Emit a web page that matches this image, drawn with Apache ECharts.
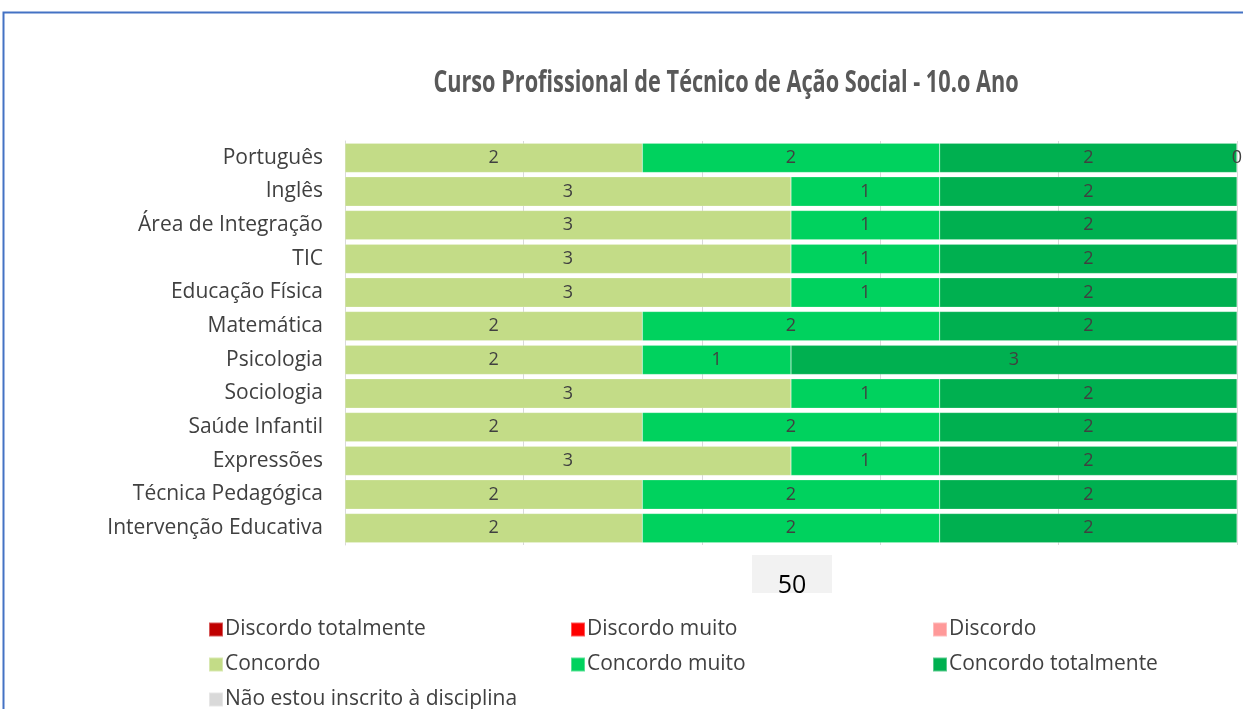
<!DOCTYPE html>
<html>
<head>
<meta charset="utf-8">
<script src="https://cdn.jsdelivr.net/npm/echarts@6/dist/echarts.min.js"></script>
<style>
  html, body { margin: 0; padding: 0; background: #fff; }
  #chart { width: 1243px; height: 709px; }
</style>
</head>
<body>
<div id="chart"></div>
<script>
const disciplinas = ['Português', 'Inglês', 'Área de Integração', 'TIC', 'Educação Física', 'Matemática',
  'Psicologia', 'Sociologia', 'Saúde Infantil', 'Expressões', 'Técnica Pedagógica', 'Intervenção Educativa']

const discordoTotalmente = [null, null, null, null, null, null, null, null, null, null, null, null]
const discordoMuito = [null, null, null, null, null, null, null, null, null, null, null, null]
const discordo = [null, null, null, null, null, null, null, null, null, null, null, null]
const concordo = [2, 3, 3, 3, 3, 2, 2, 3, 2, 3, 2, 2]
const concordoMuito = [2, 1, 1, 1, 1, 2, 1, 1, 2, 1, 2, 2]
const concordoTotalmente = [2, 2, 2, 2, 2, 2, 3, 2, 2, 2, 2, 2]
const naoInscrito = [0, null, null, null, null, null, null, null, null, null, null, null]

const seriesDefs = [
  { name: 'Discordo totalmente', data: discordoTotalmente, color: '#c00000' },
  { name: 'Discordo muito', data: discordoMuito, color: '#ff0000' },
  { name: 'Discordo', data: discordo, color: '#ff9999' },
  { name: 'Concordo', data: concordo, color: '#c3dc87' },
  { name: 'Concordo muito', data: concordoMuito, color: '#00d25e' },
  { name: 'Concordo totalmente', data: concordoTotalmente, color: '#00b050' },
  { name: 'Não estou inscrito à disciplina', data: naoInscrito, color: '#d9d9d9' },
]

// legend positions (3 columns)
const legendPos = [
  [203, 614], [565, 614], [927, 614],
  [203, 649], [565, 649], [927, 649],
  [203, 684],
]

const font = '"Open Sans", "Noto Sans", sans-serif'

const chart = echarts.init(document.getElementById('chart'))
chart.setOption({
  animation: false,
  textStyle: { fontFamily: font },
  legend: seriesDefs.map((s, i) => ({
    data: [s.name],
    left: legendPos[i][0],
    top: legendPos[i][1],
    itemWidth: 14,
    itemHeight: 14,
    icon: 'rect',
    selectedMode: false,
    textStyle: { fontSize: 21, color: '#404040', fontFamily: font, padding: [0, 0, 0, -3] },
  })),
  grid: { left: 345, right: 6, top: 141, bottom: 164, containLabel: false },
  xAxis: {
    type: 'value',
    min: 0,
    max: 6,
    interval: 1.2,
    axisLabel: { show: false },
    axisLine: { show: false },
    axisTick: { show: false },
    splitLine: { lineStyle: { color: '#d9d9d9', width: 1 } },
  },
  yAxis: {
    type: 'category',
    data: disciplinas,
    inverse: true,
    axisTick: { show: false },
    axisLine: { lineStyle: { color: '#d9d9d9' } },
    axisLabel: { fontSize: 21, color: '#404040', margin: 22, fontFamily: font },
  },
  series: seriesDefs.map(s => ({
    name: s.name,
    type: 'bar',
    stack: 'total',
    data: s.data,
    barCategoryGap: '13%',
    itemStyle: { color: s.color, borderColor: 'rgba(255,255,255,0.35)', borderWidth: 0.5 },
    label: {
      show: true,
      position: 'inside',
      color: '#404040',
      fontSize: 18,
      fontFamily: font,
    },
  })),
  graphic: [
    {
      type: 'rect',
      shape: { x: 3.5, y: 12.5, width: 1300, height: 800 },
      style: { fill: 'none', stroke: '#4472c4', lineWidth: 2 },
      silent: true,
    },
    // title, condensed by scaling
    {
      type: 'text',
      x: 726,
      y: 83,
      scaleX: 0.7,
      style: {
        text: 'Curso Profissional de Técnico de Ação Social - 10.o Ano',
        fontSize: 31,
        fontWeight: 'bold',
        fontFamily: font,
        fill: '#595959',
        align: 'center',
        verticalAlign: 'middle',
      },
      silent: true,
    },
    {
      type: 'rect',
      shape: { x: 752, y: 555, width: 80, height: 38 },
      style: { fill: '#f2f2f2' },
      silent: true,
    },
    {
      type: 'text',
      x: 792,
      y: 586,
      style: { text: '50', fontSize: 25, fill: '#000', fontFamily: font, align: 'center', verticalAlign: 'middle' },
      silent: true,
    },
    {
      type: 'rect',
      shape: { x: 752, y: 593, width: 80, height: 14 },
      style: { fill: '#fff' },
      silent: true,
    },
  ],
})
</script>
</body>
</html>
